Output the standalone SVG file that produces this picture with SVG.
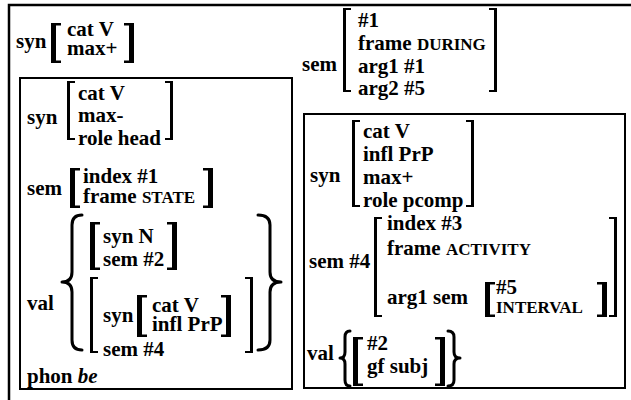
<svg xmlns="http://www.w3.org/2000/svg" width="631" height="400" viewBox="0 0 631 400">
<style>
.t{font-family:"Liberation Serif","Times New Roman",serif;font-weight:bold;font-size:21px;fill:#000}
.sc{font-size:17px}
.it{font-style:italic}
.box{fill:none;stroke:#000;stroke-width:2}
.frame{fill:none;stroke:#000;stroke-width:2.5}
.br{fill:#000}
.brace{fill:none;stroke:#000;stroke-width:3;stroke-linecap:round;stroke-linejoin:round}
</style>
<rect class="frame" x="9" y="5" width="630" height="400"/>

<g id="top-syn">
<text class="t" x="16" y="48">syn</text>
<path class="br" d="M51,23H61V25.5H56V60.5H61V63H51Z"/>
<text class="t" x="67" y="36">cat V</text>
<text class="t" x="67" y="55">max+</text>
<path class="br" d="M134,23H124V25.5H129V60.5H124V63H134Z"/>
</g>

<g id="top-sem">
<text class="t" x="302" y="71">sem</text>
<path class="br" d="M343,8H351V10H346V90H351V92H343Z"/>
<text class="t" x="358" y="27">#1</text>
<text class="t" x="358" y="50">frame <tspan class="sc">DURING</tspan></text>
<text class="t" x="358" y="73">arg1 #1</text>
<text class="t" x="358" y="95">arg2 #5</text>
<path class="br" d="M497,8H489V10H494V90H489V92H497Z"/>
</g>

<g id="left-box">
<rect class="box" x="20" y="78" width="272" height="311"/>
<text class="t" x="27" y="124">syn</text>
<path class="br" d="M67,81H75V83H70V138H75V140H67Z"/>
<text class="t" x="78" y="100">cat V</text>
<text class="t" x="78" y="122">max-</text>
<text class="t" x="78" y="145">role head</text>
<path class="br" d="M173,81H165V83H170V138H165V140H173Z"/>

<text class="t" x="27" y="195">sem</text>
<path class="br" d="M70,168H80V170.5H75V205.5H80V208H70Z"/>
<text class="t" x="83" y="183">index #1</text>
<text class="t" x="83" y="203">frame <tspan class="sc">STATE</tspan></text>
<path class="br" d="M213,168H203V170.5H208V205.5H203V208H213Z"/>

<text class="t" x="27" y="310">val</text>
<path class="brace" d="M82,215Q72,215 72,225V272Q72,282 62,282Q72,282 72,292V340Q72,350 82,350"/>
<path class="br" d="M90,222H100V224.5H95V267.5H100V270H90Z"/>
<text class="t" x="103" y="243">syn N</text>
<text class="t" x="103" y="266">sem #2</text>
<path class="br" d="M177,222H167V224.5H172V267.5H167V270H177Z"/>
<path class="br" d="M90,277H98V279H93V351H98V353H90Z"/>
<text class="t" x="103" y="322">syn</text>
<path class="br" d="M137,295H147V297.5H142V334.5H147V337H137Z"/>
<text class="t" x="152" y="312">cat V</text>
<text class="t" x="152" y="331">infl PrP</text>
<path class="br" d="M231,295H221V297.5H226V334.5H221V337H231Z"/>
<text class="t" x="103" y="356">sem #4</text>
<path class="br" d="M253,277H245V279H250V351H245V353H253Z"/>
<path class="brace" d="M258,215Q270,215 270,225V272Q270,282 281,282Q270,282 270,292V340Q270,350 258,350"/>
<text class="t" x="27" y="383">phon <tspan class="it">be</tspan></text>
</g>

<g id="right-box">
<rect class="box" x="304" y="114" width="321" height="274"/>
<text class="t" x="310" y="182">syn</text>
<path class="br" d="M352,120H360V122H355V205H360V207H352Z"/>
<text class="t" x="363" y="138">cat V</text>
<text class="t" x="363" y="161">infl PrP</text>
<text class="t" x="363" y="184">max+</text>
<text class="t" x="363" y="207">role pcomp</text>
<path class="br" d="M474,120H466V122H471V205H466V207H474Z"/>

<text class="t" x="309" y="268">sem #4</text>
<path class="br" d="M374,217H382V219H377V315H382V317H374Z"/>
<text class="t" x="387" y="230">index #3</text>
<text class="t" x="387" y="255">frame <tspan class="sc">ACTIVITY</tspan></text>
<text class="t" x="387" y="304">arg1 sem</text>
<path class="br" d="M485,282H495V284.5H490V314.5H495V317H485Z"/>
<text class="t" x="496" y="294">#5</text>
<text class="t sc" x="496" y="313">INTERVAL</text>
<path class="br" d="M607,282H597V284.5H602V314.5H597V317H607Z"/>
<path class="br" d="M617,217H609V219H614V315H609V317H617Z"/>

<text class="t" x="307" y="360">val</text>
<path class="brace" d="M350,331Q345,331 345,337V352Q345,358 340,358Q345,358 345,364V380Q345,386 350,386"/>
<path class="br" d="M353,337H363V339.5H358V383.5H363V386H353Z"/>
<text class="t" x="367" y="350">#2</text>
<text class="t" x="367" y="373">gf subj</text>
<path class="br" d="M445,337H435V339.5H440V383.5H435V386H445Z"/>
<path class="brace" d="M448,331Q454,331 454,337V352Q454,358 460,358Q454,358 454,364V380Q454,386 448,386"/>
</g>
</svg>
